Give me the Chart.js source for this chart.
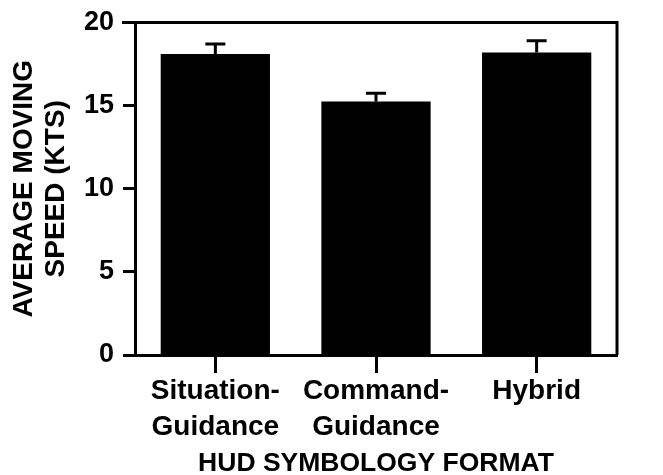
<!DOCTYPE html>
<html>
<head>
<meta charset="utf-8">
<script src="https://cdn.jsdelivr.net/npm/chart.js@4"></script>
<style>
  html, body { margin: 0; padding: 0; background: #fff; }
  #wrap { width: 663px; height: 475px; position: relative; }
</style>
</head>
<body>
<div id="wrap"><canvas id="grafico"></canvas></div>
<script>
// --- dados ---
const formatos = [['Situation-', 'Guidance'], ['Command-', 'Guidance'], 'Hybrid'];
const velocidades = [18.1, 15.25, 18.2];
const erros = [0.6, 0.5, 0.7];
const ticksY = [0, 5, 10, 15, 20];

const fonte = 'Liberation Sans, Arial, Helvetica, sans-serif';

// moldura (topo + direita) e barras de erro
const extras = {
    id: 'extras',
    afterDatasetsDraw(chart) {
        const ctx = chart.ctx;
        const a = chart.chartArea;
        const yS = chart.scales.y;
        const meta = chart.getDatasetMeta(0);
        ctx.save();
        ctx.strokeStyle = '#000';
        ctx.lineWidth = 3;
        ctx.beginPath();
        ctx.moveTo(a.left - 13, a.top);
        ctx.lineTo(a.right, a.top);
        ctx.lineTo(a.right, a.bottom);
        ctx.stroke();

        // barras de erro (só a parte de cima aparece)
        meta.data.forEach((bar, i) => {
            const yTop = yS.getPixelForValue(velocidades[i] + erros[i]);
            const yBase = yS.getPixelForValue(velocidades[i]);
            ctx.beginPath();
            ctx.moveTo(bar.x, yBase);
            ctx.lineTo(bar.x, yTop);
            ctx.moveTo(bar.x - 10, yTop);
            ctx.lineTo(bar.x + 10, yTop);
            ctx.stroke();
        });
        ctx.restore();
    }
};

new Chart(document.getElementById('grafico'), {
    type: 'bar',
    data: {
        labels: formatos,
        datasets: [{
            data: velocidades,
            backgroundColor: '#000',
            borderWidth: 0,
            barPercentage: 0.68,
            categoryPercentage: 1
        }]
    },
    options: {
        responsive: true,
        maintainAspectRatio: false,
        animation: false,
        layout: { padding: { top: 22, right: 46, left: 0, bottom: 0 } },
        plugins: { legend: { display: false }, tooltip: { enabled: false } },
        scales: {
            x: {
                afterFit: s => { s.height = 120; },
                grid: {
                    offset: false,
                    drawOnChartArea: false,
                    drawTicks: true,
                    tickLength: 18,
                    tickWidth: 3,
                    color: '#000'
                },
                border: { display: true, color: '#000', width: 3 },
                ticks: {
                    color: '#000',
                    padding: 0,
                    maxRotation: 0,
                    autoSkip: false,
                    font: { family: fonte, size: 28, weight: 'bold', lineHeight: 1.29 }
                },
                title: {
                    display: true,
                    text: 'HUD SYMBOLOGY FORMAT',
                    color: '#000',
                    padding: { top: 0, bottom: -5 },
                    font: { family: fonte, size: 26.5, weight: 'bold' }
                }
            },
            y: {
                min: 0,
                max: 20,
                afterFit: s => { s.width = 135; },
                afterBuildTicks: s => { s.ticks = ticksY.map(v => ({ value: v })); },
                grid: {
                    drawOnChartArea: false,
                    drawTicks: true,
                    tickLength: 12,
                    tickWidth: 3,
                    color: '#000'
                },
                border: { display: true, color: '#000', width: 3 },
                ticks: {
                    color: '#000',
                    padding: 9,
                    font: { family: fonte, size: 27, weight: 'bold', lineHeight: 1 }
                },
                title: {
                    display: true,
                    text: ['AVERAGE MOVING', 'SPEED (KTS)'],
                    color: '#000',
                    padding: { top: 8, bottom: 0 },
                    font: { family: fonte, size: 28, weight: 'bold', lineHeight: 1.15 }
                }
            }
        }
    },
    plugins: [extras]
});
</script>
</body>
</html>
